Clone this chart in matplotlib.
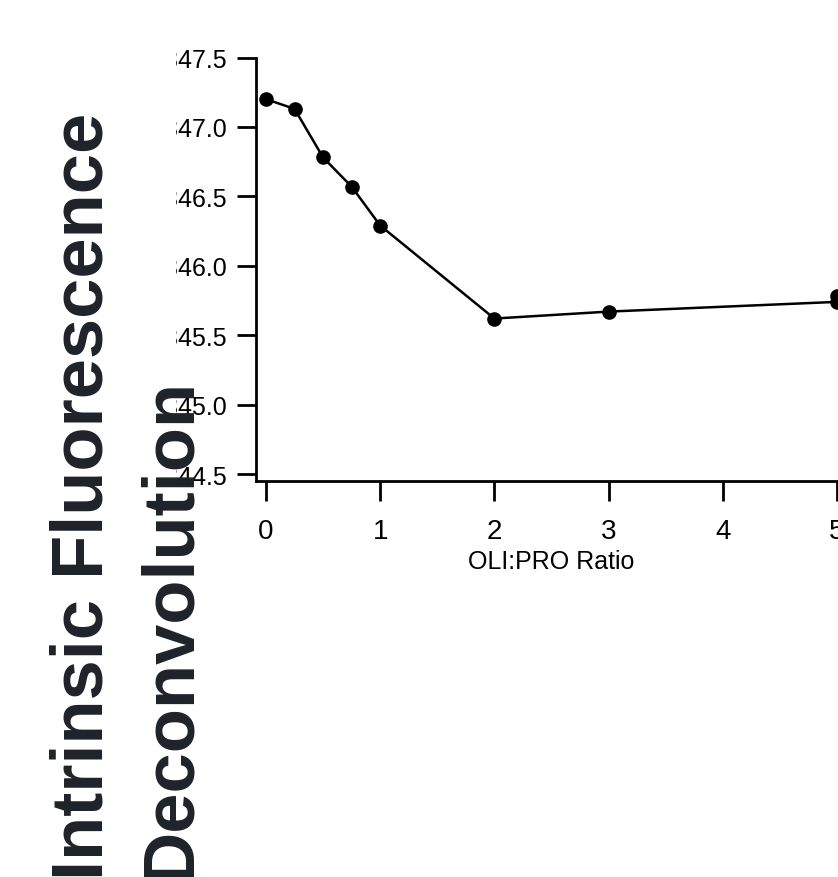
import matplotlib
matplotlib.use("Agg")
import matplotlib.pyplot as plt
from matplotlib.patches import Rectangle

# ---- data ----
ratio = [0, 0.25, 0.5, 0.75, 1, 2, 3, 5, 5]
wavelength = [347.20, 347.13, 346.78, 346.57, 346.29, 345.62, 345.67, 345.74, 345.78]
x_ticks = [0, 1, 2, 3, 4, 5]
y_ticks = [344.5, 345.0, 345.5, 346.0, 346.5, 347.0, 347.5]
x_label = "OLI:PRO Ratio"
title_lines = ["Intrinsic Fluorescence", "Deconvolution"]

W, H = 838, 878
fig = plt.figure(figsize=(W / 100, H / 100), dpi=100)
fig.patch.set_facecolor("white")

plt.rcParams["font.family"] = ["Liberation Sans", "DejaVu Sans"]

def fx(px):
    return px / W

def fy(py):
    return (H - py) / H

# axes geometry (pixels)
left_px, right_px = 256, 846
top_px, bottom_px = 58.5, 482
ax = fig.add_axes([fx(left_px), fy(bottom_px), fx(right_px) - fx(left_px), fy(top_px) - fy(bottom_px)])
ax.set_xlim(-0.0876, 5.08)
ax.set_ylim(344.45, 347.5)

ax.plot(ratio, wavelength, color="black", lw=1.8, marker="o", ms=9.5, zorder=3, clip_on=False)

for s in ["top", "right"]:
    ax.spines[s].set_visible(False)
for s in ["left", "bottom"]:
    ax.spines[s].set_linewidth(2)
    ax.spines[s].set_color("black")

ax.set_xticks(x_ticks)
ax.set_xticklabels([str(t) for t in x_ticks])
ax.set_yticks(y_ticks)
ax.set_yticklabels([f"{t:.1f}" for t in y_ticks])
ax.tick_params(axis="x", direction="out", length=14.4, width=2, pad=12, labelsize=20, colors="black")
ax.tick_params(axis="y", direction="out", length=14, width=2, pad=7, labelsize=18, colors="black")
ax.set_xlabel(x_label, fontsize=18, labelpad=4, color="black")
ax.set_facecolor("none")

# crop of the left edge of the y tick labels (as in the source picture)
fig.patches.append(Rectangle((0, fy(495)), fx(176), fy(40) - fy(495), transform=fig.transFigure,
                             facecolor="white", edgecolor="none", zorder=1))

# rotated title, two lines
title_color = "#1e2229"
fig.text(fx(102), fy(880), title_lines[0], rotation=90, rotation_mode="anchor",
         ha="left", va="baseline", fontsize=52, fontweight="bold", color=title_color, zorder=3)
fig.text(fx(190), fy(880), title_lines[1], rotation=90, rotation_mode="anchor",
         ha="left", va="baseline", fontsize=52, fontweight="bold", color=title_color, zorder=3)

fig.savefig("out.png", dpi=100, facecolor="white")
